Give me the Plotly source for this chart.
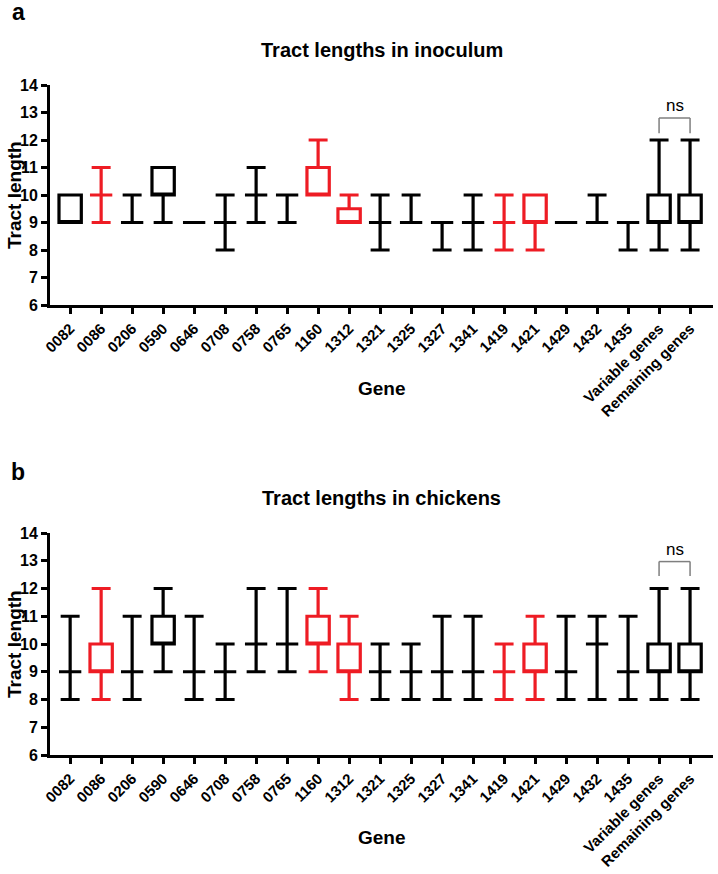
import plotly.graph_objects as go

genes = ["0082", "0086", "0206", "0590", "0646", "0708", "0758", "0765", "1160", "1312",
         "1321", "1325", "1327", "1341", "1419", "1421", "1429", "1432", "1435",
         "Variable genes", "Remaining genes"]
red_genes = ["0086", "1160", "1312", "1419", "1421"]

# Panel a: inoculum
a_min = [9, 9, 9, 9, 9, 8, 9, 9, 10, 9, 8, 9, 8, 8, 8, 8, 9, 9, 8, 8, 8]
a_q1 = [9, 10, 9, 10, 9, 9, 10, 10, 10, 9, 9, 9, 9, 9, 9, 9, 9, 9, 9, 9, 9]
a_med = [9, 10, 9, 10, 9, 9, 10, 10, 10, 9, 9, 9, 9, 9, 9, 9, 9, 9, 9, 9, 9]
a_q3 = [10, 10, 9, 11, 9, 9, 10, 10, 11, 9.5, 9, 9, 9, 9, 9, 10, 9, 9, 9, 10, 10]
a_max = [10, 11, 10, 11, 9, 10, 11, 10, 12, 10, 10, 10, 9, 10, 10, 10, 9, 10, 9, 12, 12]

# Panel b: chickens
b_min = [8, 8, 8, 9, 8, 8, 9, 9, 9, 8, 8, 8, 8, 8, 8, 8, 8, 8, 8, 8, 8]
b_q1 = [9, 9, 9, 10, 9, 9, 10, 10, 10, 9, 9, 9, 9, 9, 9, 9, 9, 10, 9, 9, 9]
b_med = [9, 9, 9, 10, 9, 9, 10, 10, 10, 9, 9, 9, 9, 9, 9, 9, 9, 10, 9, 9, 9]
b_q3 = [9, 10, 9, 11, 9, 9, 10, 10, 11, 10, 9, 9, 9, 9, 9, 10, 9, 10, 9, 10, 10]
b_max = [11, 12, 11, 12, 11, 10, 12, 12, 12, 11, 10, 10, 11, 11, 10, 11, 11, 11, 11, 12, 12]

panel_titles = ["Tract lengths in inoculum", "Tract lengths in chickens"]
panel_letters = ["a", "b"]
y_ticks = [6, 7, 8, 9, 10, 11, 12, 13, 14]

W, H = 718, 874
FONT = "Liberation Sans"
RED = "#ee1c24"

fig = go.Figure()

panels = [
    dict(mn=a_min, q1=a_q1, med=a_med, q3=a_q3, mx=a_max, top=85, bot=305,
         letter_y=12, title_y=50, gene_y=388, ns_y=13.25, br_top=12.8, br_bot=12.25),
    dict(mn=b_min, q1=b_q1, med=b_med, q3=b_q3, mx=b_max, top=533, bot=755,
         letter_y=472, title_y=498, gene_y=837, ns_y=13.4, br_top=12.97, br_bot=12.45),
]

xl, xr = 50, 713
annotations = []
shapes = []
for i, p in enumerate(panels):
    xa = "x" if i == 0 else "x2"
    ya = "y" if i == 0 else "y2"
    for color, is_red in [("black", False), (RED, True)]:
        idx = [k for k, g in enumerate(genes) if (g in red_genes) == is_red]
        fig.add_trace(go.Box(
            x=[genes[k] for k in idx],
            q1=[p["q1"][k] for k in idx],
            median=[p["med"][k] for k in idx],
            q3=[p["q3"][k] for k in idx],
            lowerfence=[p["mn"][k] for k in idx],
            upperfence=[p["mx"][k] for k in idx],
            xaxis=xa, yaxis=ya,
            line=dict(color=color, width=3.2),
            fillcolor="rgba(0,0,0,0)",
            whiskerwidth=0.85,
            width=0.72,
            boxpoints=False,
            showlegend=False,
        ))
    axis_common = dict(
        showline=True, linecolor="black", linewidth=3,
        ticks="outside", ticklen=6, tickwidth=2.5, tickcolor="black",
        showgrid=False, zeroline=False, mirror=False, automargin=False,
    )
    dom_x = [xl / W, xr / W]
    dom_y = [1 - p["bot"] / H, 1 - p["top"] / H]
    fig.layout["xaxis" + ("" if i == 0 else "2")] = dict(
        axis_common, type="category", categoryorder="array", categoryarray=genes,
        range=[-0.65, 20.74], domain=dom_x, tickangle=-45,
        tickfont=dict(family=FONT, size=15, color="black", weight="bold"),
        anchor=ya,
    )
    fig.layout["yaxis" + ("" if i == 0 else "2")] = dict(
        axis_common, range=[6, 14], domain=dom_y, tickvals=y_ticks,
        tickfont=dict(family=FONT, size=16, color="black", weight="bold"),
        anchor=xa,
    )
    mid_x = (xl + xr) / 2 / W
    common = dict(xref="paper", yref="paper", showarrow=False,
                  xanchor="center", yanchor="middle")
    annotations += [
        dict(common, text=f"<b>{panel_letters[i]}</b>", x=18 / W, y=1 - p["letter_y"] / H,
             font=dict(family=FONT, size=23, color="black")),
        dict(common, text=f"<b>{panel_titles[i]}</b>", x=mid_x, y=1 - p["title_y"] / H,
             font=dict(family=FONT, size=20, color="black")),
        dict(common, text="<b>Gene</b>", x=mid_x, y=1 - p["gene_y"] / H,
             font=dict(family=FONT, size=19, color="black")),
        dict(common, text="<b>Tract length</b>", x=14 / W,
             y=1 - (p["top"] + p["bot"]) / 2 / H, textangle=-90,
             font=dict(family=FONT, size=19, color="black")),
        dict(text="ns", x=19.5, y=p["ns_y"], xref=xa, yref=ya, showarrow=False,
             xanchor="center", yanchor="middle",
             font=dict(family=FONT, size=17, color="black")),
    ]
    for (x0, y0, x1, y1) in [(19, p["br_bot"], 19, p["br_top"]),
                             (19, p["br_top"], 20, p["br_top"]),
                             (20, p["br_top"], 20, p["br_bot"])]:
        shapes.append(dict(type="line", xref=xa, yref=ya, x0=x0, y0=y0, x1=x1, y1=y1,
                           line=dict(color="#7f7f7f", width=1.5)))

fig.update_layout(
    width=W, height=H,
    margin=dict(l=0, r=0, t=0, b=0, autoexpand=False),
    paper_bgcolor="white", plot_bgcolor="white",
    boxmode="overlay",
    annotations=annotations,
    shapes=shapes,
    showlegend=False,
)

fig.write_html("out.html", config={"displayModeBar": False})

# remove the browser's default page margin so the figure sits at the top-left corner
with open("out.html", encoding="utf-8") as f:
    html = f.read()
html = html.replace("<head>", "<head><style>html,body{margin:0;padding:0;}</style>", 1)
with open("out.html", "w", encoding="utf-8") as f:
    f.write(html)
